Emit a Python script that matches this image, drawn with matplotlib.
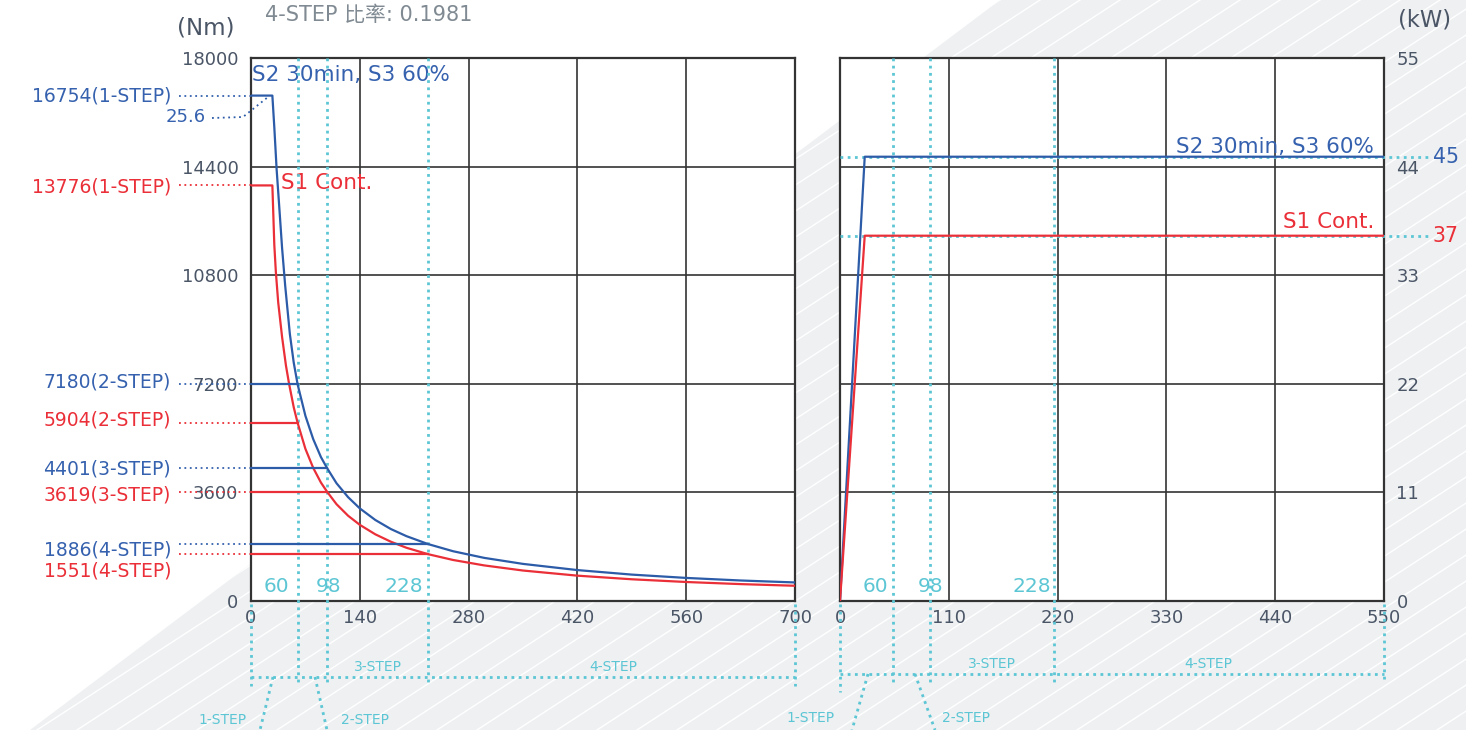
import matplotlib
matplotlib.use('Agg')
import matplotlib.pyplot as plt
from matplotlib.patches import Polygon
import numpy as np

plt.rcParams['font.family'] = ['DejaVu Sans', 'Noto Sans CJK TC']

# ---------------- data ----------------
s2_speed = [0, 27.5, 30, 33, 36, 40, 44, 50, 55, 60, 70, 80, 90, 98, 110, 125, 140, 160, 180,
            200, 228, 260, 300, 350, 420, 490, 560, 630, 700]
s2_torque = [16754, 16754, 15700, 14300, 13200, 11700, 10450, 8850, 7900, 7180, 6140, 5370, 4770,
             4401, 3905, 3440, 3070, 2685, 2385, 2150, 1886, 1650, 1430, 1230, 1025, 875, 765, 680, 615]
s1_speed = [0, 27.5, 30, 32, 35, 40, 45, 49, 55, 60, 70, 80, 90, 98, 110, 125, 140, 160, 180,
            200, 228, 260, 300, 350, 420, 490, 560, 630, 700]
s1_torque = [13776, 13776, 11800, 10900, 9900, 8750, 7800, 7200, 6420, 5904, 5045, 4415, 3925,
             3619, 3210, 2825, 2525, 2210, 1965, 1765, 1551, 1360, 1180, 1010, 840, 720, 630, 560, 505]

step_speeds = [60, 98, 228]
step_torque_s2 = [7180, 4401, 1886]
step_torque_s1 = [5904, 3619, 1551]
step_names = ['2-STEP', '3-STEP', '4-STEP']
base_torque_s2 = 16754
base_torque_s1 = 13776
base_speed_label = '25.6'

power_speed = [0, 25, 550]
power_s2 = [0, 45, 45]
power_s1 = [0, 37, 37]
power_levels = [45, 37]
right_step_marks = [53.6, 91, 216.4]   # where the step marks are drawn on the power panel

left_xticks = [0, 140, 280, 420, 560, 700]
left_yticks = [0, 3600, 7200, 10800, 14400, 18000]
right_xticks = [0, 110, 220, 330, 440, 550]
right_yticks = [0, 11, 22, 33, 44, 55]

BLUE = '#2c5ba8'
BLUE_T = '#3561ae'
RED = '#ea2f38'
CYAN = '#5cc6d4'
TICK = '#4a5566'
GRID = '#333333'

W, H = 1466, 730
fig = plt.figure(figsize=(W / 100, H / 100), dpi=100)
fig.patch.set_facecolor('white')

# ---------------- background ----------------
bg = fig.add_axes([0, 0, 1, 1], zorder=-10)
bg.set_xlim(0, W)
bg.set_ylim(H, 0)
bg.axis('off')
poly = Polygon([(30, 730), (1000, 0), (W, 0), (W, H)], closed=True, fc='#eef0f2', ec='none')
bg.add_patch(poly)
for c in np.arange(0, 1700, 26):
    ln, = bg.plot([0, W], [c, c - 0.65 * W], color='white', lw=1.0)
    ln.set_clip_path(poly)

# ---------------- axes ----------------
axL = fig.add_axes([251 / W, 1 - 601 / H, 544 / W, 543 / H])
axR = fig.add_axes([840 / W, 1 - 601 / H, 544 / W, 543 / H])

def xL(px): return (px - 251) * 700 / 544
def yL(py): return (601 - py) * 18000 / 543
def xR(px): return (px - 840) * 550 / 544
def yR(py): return (601 - py) * 55 / 543

for ax, xt, yt in [(axL, left_xticks, left_yticks), (axR, right_xticks, right_yticks)]:
    ax.set_xlim(xt[0], xt[-1])
    ax.set_ylim(yt[0], yt[-1])
    ax.set_xticks(xt)
    ax.set_yticks(yt)
    ax.set_facecolor('white')
    ax.grid(True, color=GRID, lw=1.2)
    ax.set_axisbelow(True)
    for sp in ax.spines.values():
        sp.set_color(GRID)
        sp.set_linewidth(1.6)
    ax.tick_params(length=0, labelsize=13, labelcolor=TICK)
    ax.tick_params(axis='x', pad=6)
    ax.tick_params(axis='y', pad=9)
axR.yaxis.tick_right()

DOT = (0, (1, 2))
CDOT = (0, (1, 1.6))
LS = 13.5

# ---------------- left: torque ----------------
axL.plot(s2_speed, s2_torque, color=BLUE, lw=1.6, zorder=5)
axL.plot(s1_speed, s1_torque, color=RED, lw=1.6, zorder=5)
for s, t2, t1 in zip(step_speeds, step_torque_s2, step_torque_s1):
    axL.plot([0, s], [t2, t2], color=BLUE, lw=1.6, zorder=5)
    axL.plot([0, s], [t1, t1], color=RED, lw=1.6, zorder=5)

# leaders and labels
labels = [(base_torque_s2, f'{base_torque_s2}(1-STEP)', BLUE_T, 96),
          (base_torque_s1, f'{base_torque_s1}(1-STEP)', RED, 187)]
label_py2 = [382, 469, 550]
label_py1 = [420, 495, 571]
for t2, t1, nm, p2, p1 in zip(step_torque_s2, step_torque_s1, step_names, label_py2, label_py1):
    labels.append((t2, f'{t2}({nm})', BLUE_T, p2))
    labels.append((t1, f'{t1}({nm})', RED, p1))
for v, txt, col, py in labels:
    axL.plot([xL(179), 0], [v, v], color=col, ls=DOT, lw=1.3, clip_on=False, zorder=6)
    axL.text(xL(171), yL(py), txt, ha='right', va='center', color=col, fontsize=LS, clip_on=False)

axL.plot([xL(212), xL(243), xL(268)], [yL(118), yL(117), yL(97)], color=BLUE, ls=DOT, lw=1.3,
         clip_on=False, zorder=6)
axL.text(xL(206), yL(117), base_speed_label, ha='right', va='center', color=BLUE_T, fontsize=13,
         clip_on=False)

axL.text(xL(252), yL(75), 'S2 30min, S3 60%', ha='left', va='center', color=BLUE_T, fontsize=15.5)
axL.text(xL(281), yL(183), 'S1 Cont.', ha='left', va='center', color=RED, fontsize=15.5)

# cyan step markers (left)
for s in step_speeds:
    axL.plot([s, s], [left_yticks[-1], yL(686)], color=CYAN, ls=CDOT, lw=2.0, clip_on=False, zorder=4)
for s in [left_xticks[0], left_xticks[-1]]:
    axL.plot([s, s], [yL(604), yL(686)], color=CYAN, ls=CDOT, lw=2.0, clip_on=False, zorder=4)
axL.plot([left_xticks[0], left_xticks[-1]], [yL(677), yL(677)], color=CYAN, ls=CDOT, lw=2.0,
         clip_on=False, zorder=4)
for s, px in zip(step_speeds, [276, 329, 404]):
    axL.text(xL(px), yL(586), str(s), ha='center', va='center', color=CYAN, fontsize=14.5)
axL.plot([xL(273), xL(260)], [yL(677), yL(730)], color=CYAN, ls=CDOT, lw=2.0, clip_on=False)
axL.plot([xL(315), xL(327)], [yL(677), yL(730)], color=CYAN, ls=CDOT, lw=2.0, clip_on=False)
axL.text(xL(378), yL(667), '3-STEP', ha='center', va='center', color=CYAN, fontsize=10)
axL.text(xL(613), yL(667), '4-STEP', ha='center', va='center', color=CYAN, fontsize=10)
axL.text(xL(247), yL(720), '1-STEP', ha='right', va='center', color=CYAN, fontsize=10)
axL.text(xL(341), yL(720), '2-STEP', ha='left', va='center', color=CYAN, fontsize=10)

# ---------------- right: power ----------------
for p in power_levels:
    axR.plot([0, xR(1430)], [p, p], color=CYAN, ls=CDOT, lw=2.0, clip_on=False, zorder=4)
axR.plot(power_speed, power_s2, color=BLUE, lw=1.6, zorder=5)
axR.plot(power_speed, power_s1, color=RED, lw=1.6, zorder=5)
axR.text(xR(1433), power_levels[0], str(power_levels[0]), ha='left', va='center', color=BLUE_T,
         fontsize=14.8, clip_on=False)
axR.text(xR(1433), power_levels[1], str(power_levels[1]), ha='left', va='center', color=RED,
         fontsize=14.8, clip_on=False)
axR.text(xR(1374), yR(147), 'S2 30min, S3 60%', ha='right', va='center', color=BLUE_T, fontsize=15.5)
axR.text(xR(1374), yR(222), 'S1 Cont.', ha='right', va='center', color=RED, fontsize=15.5)

for s in right_step_marks:
    axR.plot([s, s], [right_yticks[-1], yR(682)], color=CYAN, ls=CDOT, lw=2.0, clip_on=False, zorder=4)
axR.plot([0, 0], [yR(604), yR(692)], color=CYAN, ls=CDOT, lw=2.0, clip_on=False, zorder=4)
axR.plot([550, 550], [yR(604), yR(683)], color=CYAN, ls=CDOT, lw=2.0, clip_on=False, zorder=4)
axR.plot([0, 550], [yR(674), yR(674)], color=CYAN, ls=CDOT, lw=2.0, clip_on=False, zorder=4)
for s, px in zip(step_speeds, [875, 931, 1032]):
    axR.text(xR(px), yR(586), str(s), ha='center', va='center', color=CYAN, fontsize=14.5)
axR.plot([xR(868), xR(852)], [yR(674), yR(730)], color=CYAN, ls=CDOT, lw=2.0, clip_on=False)
axR.plot([xR(915), xR(935)], [yR(674), yR(730)], color=CYAN, ls=CDOT, lw=2.0, clip_on=False)
axR.text(xR(992), yR(664), '3-STEP', ha='center', va='center', color=CYAN, fontsize=10)
axR.text(xR(1208), yR(664), '4-STEP', ha='center', va='center', color=CYAN, fontsize=10)
axR.text(xR(835), yR(718), '1-STEP', ha='right', va='center', color=CYAN, fontsize=10)
axR.text(xR(942), yR(718), '2-STEP', ha='left', va='center', color=CYAN, fontsize=10)

# ---------------- titles ----------------
fig.text(206 / W, 1 - 28 / H, '(Nm)', ha='center', va='center', color=TICK, fontsize=16.5)
fig.text(1425 / W, 1 - 20 / H, '(kW)', ha='center', va='center', color=TICK, fontsize=16.3)
fig.text(265 / W, 1 - 15 / H, '4-STEP 比率: 0.1981', ha='left', va='center', color='#808a92',
         fontsize=15)

fig.savefig('out.png', dpi=100)
